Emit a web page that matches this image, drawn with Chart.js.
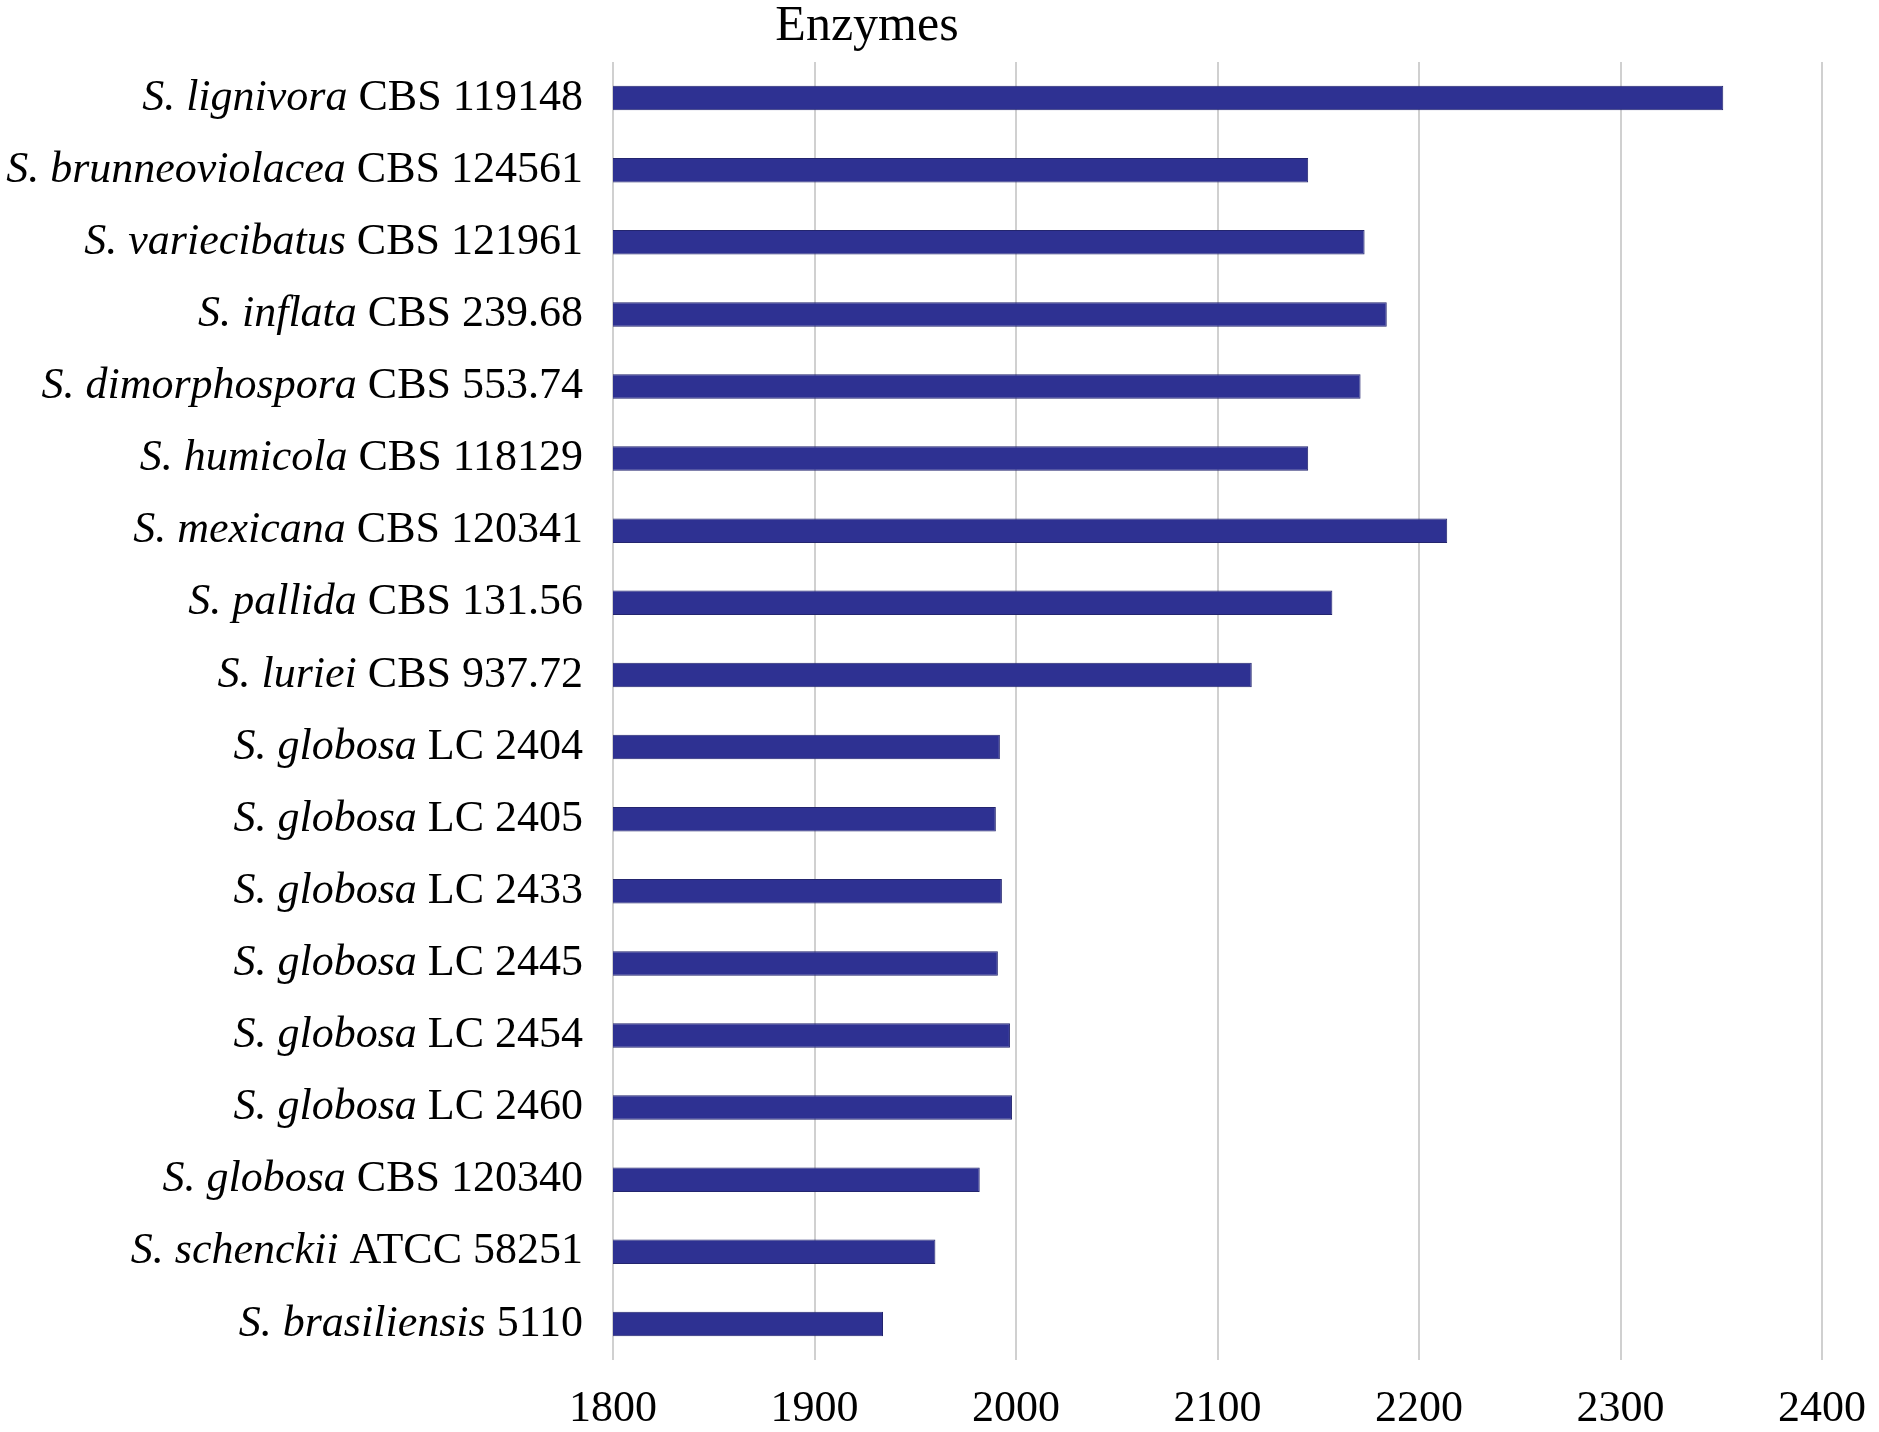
<!DOCTYPE html>
<html>
<head>
<meta charset="utf-8">
<script src="https://cdn.jsdelivr.net/npm/chart.js@4.4.1/dist/chart.umd.min.js"></script>
<style>
  html, body { margin: 0; padding: 0; background: #fff; }
  #wrap { position: relative; width: 1879px; height: 1432px; }
  #title {
    position: absolute; left: 0; width: 1734px; top: -2px; text-align: center;
    font-family: "Liberation Serif", "DejaVu Serif", serif; font-size: 50px; line-height: 50px;
    color: #000;
  }
</style>
</head>
<body>
<div id="wrap">
  <div id="title">Enzymes</div>
  <canvas id="chart" width="1879" height="1432"></canvas>
</div>
<script>
// noms d'espèces (italique) et souches (romain)
const species = [
  'S. lignivora', 'S. brunneoviolacea', 'S. variecibatus', 'S. inflata',
  'S. dimorphospora', 'S. humicola', 'S. mexicana', 'S. pallida', 'S. luriei',
  'S. globosa', 'S. globosa', 'S. globosa', 'S. globosa', 'S. globosa',
  'S. globosa', 'S. globosa', 'S. schenckii', 'S. brasiliensis'
];
const strains = [
  'CBS 119148', 'CBS 124561', 'CBS 121961', 'CBS 239.68',
  'CBS 553.74', 'CBS 118129', 'CBS 120341', 'CBS 131.56', 'CBS 937.72',
  'LC 2404', 'LC 2405', 'LC 2433', 'LC 2445', 'LC 2454',
  'LC 2460', 'CBS 120340', 'ATCC 58251', '5110'
];
const enzymes = [
  2351, 2145, 2173, 2184, 2171, 2145, 2214, 2157, 2117,
  1992, 1990, 1993, 1991, 1997, 1998, 1982, 1960, 1934
];
const xTicks = [1800, 1900, 2000, 2100, 2200, 2300, 2400];

const labels = species.map((s, i) => s + ' ' + strains[i]);
const FONT = '"Liberation Serif", "DejaVu Serif", serif';
const FS = 44;

// étiquettes mixtes italique / romain
const mixedLabels = {
  id: 'mixedLabels',
  afterDraw(chart) {
    const ctx = chart.ctx;
    const y = chart.scales.y;
    const right = chart.chartArea.left - 30;
    ctx.save();
    ctx.fillStyle = '#000';
    ctx.textBaseline = 'middle';
    ctx.textAlign = 'left';
    species.forEach((sp, i) => {
      const py = y.getPixelForTick(i);
      ctx.font = 'italic ' + FS + 'px ' + FONT;
      const w1 = ctx.measureText(sp + ' ').width;
      ctx.font = FS + 'px ' + FONT;
      const w2 = ctx.measureText(strains[i]).width;
      const x0 = right - w1 - w2;
      ctx.font = 'italic ' + FS + 'px ' + FONT;
      ctx.fillText(sp + ' ', x0, py);
      ctx.font = FS + 'px ' + FONT;
      ctx.fillText(strains[i], x0 + w1, py);
    });
    ctx.restore();
  }
};

new Chart(document.getElementById('chart'), {
  type: 'bar',
  data: {
    labels: labels,
    datasets: [{
      data: enzymes,
      backgroundColor: '#2e3192',
      borderColor: '#23256e',
      borderWidth: 1,
      barPercentage: 0.34,
      categoryPercentage: 1
    }]
  },
  options: {
    indexAxis: 'y',
    responsive: false,
    animation: false,
    layout: { padding: { top: 62, right: 57, bottom: 0, left: 0 } },
    plugins: { legend: { display: false }, tooltip: { enabled: false } },
    scales: {
      x: {
        min: 1800, max: 2400,
        afterBuildTicks: (s) => { s.ticks = xTicks.map(v => ({ value: v })); },
        grid: { color: '#d0d0d0', lineWidth: 2, drawTicks: false },
        border: { display: false },
        ticks: {
          color: '#000', padding: 23, font: { family: FONT, size: FS },
          callback: (v) => String(v)
        },
        afterFit: (s) => { s.height = 72; s.paddingRight = 0; s.paddingLeft = 0; }
      },
      y: {
        grid: { display: false },
        border: { display: false },
        ticks: { display: false },
        afterFit: (s) => { s.width = 613; }
      }
    }
  },
  plugins: [mixedLabels]
});
</script>
</body>
</html>
